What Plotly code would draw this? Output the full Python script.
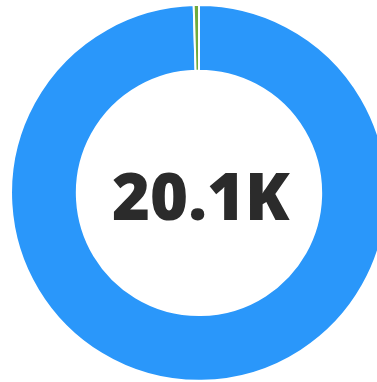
import plotly.graph_objects as go

labels = ["A", "B"]
values = [20010, 90]
colors = ["#2A97FA", "#6FAA3C"]
center_text = "20.1K"

fig = go.Figure(go.Pie(
    labels=labels, values=values, hole=0.65, sort=False, direction="clockwise",
    marker=dict(colors=colors, line=dict(color="white", width=2)),
    textinfo="none", hoverinfo="label+value", showlegend=False,
    domain=dict(x=[0, 1], y=[0.003, 0.987]),
))
fig.add_annotation(text=center_text, x=0.505, y=0.49, xref="paper", yref="paper", showarrow=False,
                   font=dict(family="Open Sans", size=65, color="#2B2B2B", weight=800))
fig.update_layout(width=398, height=382, margin=dict(l=0, r=0, t=0, b=0),
                  paper_bgcolor="white", plot_bgcolor="white")
fig.write_html("out.html", config={"displayModeBar": False},
               post_script="document.body.style.margin='0';document.body.style.overflow='hidden';")
